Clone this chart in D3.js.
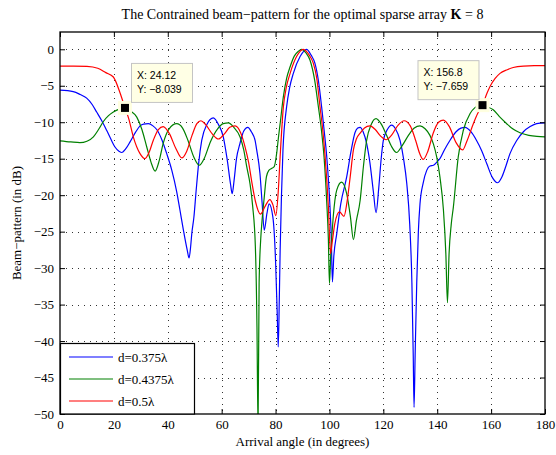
<!DOCTYPE html>
<html>
<head>
<meta charset="utf-8">
<script src="https://cdn.jsdelivr.net/npm/d3@7"></script>
<style>
  html, body { margin: 0; padding: 0; background: #fff; }
  svg { display: block; }
</style>
</head>
<body>
<svg id="chart" width="556" height="455"></svg>
<script>
// Beam-pattern curves (arrival angle in degrees, response in dB)
const seriesLabels = ["d=0.375λ", "d=0.4375λ", "d=0.5λ"];
const seriesColors = ["#0000ff", "#008000", "#ff0000"];

const blueAngle = [0, 4.9, 7.5, 9.9, 12, 13.6, 15.5, 17.3, 19, 20.4, 22, 22.9, 24.5, 26, 28, 29.7, 31, 32.8, 34.5, 35.9, 37.8, 39.6, 41.5, 43.3, 44.5, 45.8, 47.2, 47.9, 48.5, 48.9, 49.7, 50.5, 51.5, 52.6, 54.5, 56.9, 58.8, 60.6, 62, 63.3, 63.9, 64.6, 65.5, 66.8, 68.2, 69.7, 71, 72.4, 73, 74.2, 75, 75.8, 76.8, 77.6, 79, 80, 80.6, 81, 81.4, 81.7, 82.2, 82.75, 84.1, 85.2, 86.6, 89.1, 91.5, 93.2, 94.6, 95.9, 97.1, 98, 99, 100.2, 100.7, 101.1, 101.6, 102.7, 104.2, 106.4, 108, 109.5, 110.5, 111.4, 112.5, 113.8, 115, 116.3, 117.3, 118.3, 119.2, 120, 121.5, 123.1, 124.5, 126.2, 127.5, 128.7, 129.8, 130.6, 131.1, 131.4, 131.8, 132.4, 133, 133.6, 134.8, 136.1, 137.3, 138.6, 140, 141, 142.8, 144.7, 147, 148.8, 150.3, 152.5, 154.6, 156.5, 158.4, 160.5, 162.3, 164, 165.5, 167, 169.5, 172, 174.5, 176.9, 180];
const blueDb = [-5.6, -5.8, -6.2, -6.7, -7.6, -8.6, -9.8, -11.1, -12.4, -13.4, -14.0, -14.15, -13.6, -12.7, -11.4, -10.5, -10.25, -10.2, -10.5, -11.0, -12.4, -14.3, -16.6, -19.5, -22.0, -24.8, -27.5, -28.6, -27, -25.3, -23, -19.5, -15.5, -12.5, -10.3, -9.4, -10.3, -12.0, -15.0, -18.5, -19.8, -18.0, -15.0, -12.9, -11.2, -10.7, -11.3, -12.5, -13.8, -17.0, -21.0, -24.8, -22.5, -21.2, -23.0, -29.0, -36.0, -40.8, -34.0, -27.6, -20.0, -13.8, -7.9, -5.3, -3.3, -1.0, 0, -0.8, -1.9, -4.3, -7.9, -11.0, -14.75, -21.6, -26.0, -31.9, -28.5, -25.3, -21.2, -17.5, -14.0, -11.4, -10.8, -10.7, -11.3, -12.9, -15.5, -19.5, -22.4, -19.0, -15.0, -12.5, -11.0, -10.4, -10.9, -12.5, -15.0, -18.4, -24.0, -32.0, -42.0, -49.1, -42.0, -32.0, -25.0, -21.2, -18.3, -16.6, -16.0, -15.9, -15.4, -15.0, -13.7, -12.5, -11.3, -10.8, -10.7, -11.3, -12.5, -13.9, -15.7, -17.6, -18.3, -17.5, -16.0, -14.3, -12.5, -11.3, -10.6, -10.2, -10.1];

const greenAngle = [0, 4, 7.4, 10, 12.4, 14.3, 16.1, 18, 19.8, 22, 24.12, 26, 28.5, 30.4, 32.2, 33.8, 35.3, 36.8, 38.3, 40.5, 43.3, 45.5, 47.5, 49.7, 51.7, 53.6, 55.8, 58.5, 60.6, 62.5, 64.5, 66.8, 68.2, 69.3, 70.5, 71.5, 72.5, 73.1, 73.5, 73.9, 74.5, 74.9, 75.8, 76.6, 77.5, 78.5, 79.5, 80.4, 81.1, 81.7, 82.9, 84.1, 85.4, 87, 88.4, 89.7, 91.3, 92.8, 94.5, 95.9, 97, 98, 99, 99.6, 100, 100.5, 101.4, 102.7, 104.5, 106.4, 107.8, 108.9, 110, 111.4, 112.6, 113.8, 115.5, 117.3, 119.3, 121.2, 123, 124.9, 127, 129.5, 131.5, 133.6, 135.5, 137.3, 138.6, 139.8, 141, 142.3, 143.2, 143.8, 144.4, 145.2, 146, 147.8, 149.7, 152.2, 154, 155.5, 156.8, 158.5, 160.8, 163, 165.8, 168, 170.7, 174, 177, 180];
const greenDb = [-12.55, -12.7, -12.8, -12.6, -12.0, -11.0, -9.9, -9.1, -8.6, -8.2, -8.04, -8.4, -9.3, -11.0, -13.4, -15.5, -16.7, -15.3, -12.9, -10.9, -10.2, -10.8, -12.5, -14.8, -15.9, -14.9, -12.7, -10.9, -10.2, -10.1, -10.7, -12.0, -13.8, -16.1, -18.4, -21.5, -27.0, -38.0, -52.0, -32.0, -26.0, -23.9, -20.3, -17.5, -16.6, -16.35, -16.1, -14.3, -12.0, -10.2, -6.5, -4.0, -2.4, -0.9, -0.3, 0, -0.5, -1.5, -4.2, -7.9, -11.0, -14.75, -21.0, -26.0, -32.1, -28.0, -23.0, -19.3, -18.2, -19.8, -23.0, -26.1, -23.5, -20.7, -16.1, -12.5, -10.3, -9.5, -10.3, -11.8, -13.3, -14.15, -13.2, -11.7, -10.8, -10.5, -10.9, -11.8, -13.0, -14.75, -17.5, -22.0, -28.0, -34.75, -28.0, -24.0, -21.6, -14.75, -11.1, -8.8, -8.0, -7.7, -7.66, -7.9, -8.3, -9.2, -10.2, -10.9, -11.45, -11.8, -11.95, -12.0];

const redAngle = [0, 5, 10, 14, 17, 19.8, 22.3, 24.12, 25.5, 27.2, 29.7, 31.5, 33, 34.6, 36.5, 38.3, 40.5, 43, 45.2, 47, 49, 50.8, 52.3, 54, 56.5, 58.8, 61, 63, 65, 67, 68.7, 70, 71.1, 72.5, 74.4, 76, 77.9, 79, 80.1, 81, 81.7, 82.9, 84, 85.4, 87.8, 90.3, 92.5, 94, 95.3, 96.5, 97.5, 98.4, 99.6, 100.4, 101, 102, 103.7, 105.4, 106.5, 107.7, 108.9, 110, 111.4, 113, 115, 117, 119, 121, 123, 125.5, 127.7, 130, 132, 133.5, 134.8, 136.5, 138.5, 140.5, 142.3, 144.5, 147, 149.4, 151, 153.4, 155, 156.8, 158.5, 159.6, 161.5, 163.3, 166, 168.2, 172, 176, 180];
const redDb = [-2.3, -2.3, -2.35, -2.6, -3.2, -3.8, -6.0, -8.04, -9.5, -12.0, -14.3, -15.0, -14.2, -12.5, -11.0, -10.6, -11.5, -13.6, -14.9, -14.0, -11.8, -10.2, -9.8, -10.3, -11.6, -12.3, -11.6, -10.7, -10.5, -11.4, -13.4, -15.5, -18.0, -20.8, -22.6, -21.6, -20.6, -21.3, -22.8, -19.5, -14.75, -7.9, -5.2, -3.3, -1.0, 0, -0.8, -1.9, -4.0, -7.9, -11.0, -14.75, -21.6, -28.0, -26.5, -23.9, -22.3, -22.9, -21.0, -17.5, -13.8, -12.3, -11.5, -10.8, -10.5, -11.0, -11.9, -12.4, -11.8, -10.4, -9.8, -10.5, -12.5, -14.3, -15.1, -14.0, -11.5, -10.0, -9.7, -10.6, -12.8, -13.8, -12.6, -10.2, -8.8, -7.66, -6.0, -5.1, -4.0, -3.3, -2.8, -2.5, -2.3, -2.25, -2.25];

// Data cursors placed on the pattern
const tipAngle = [24.12, 156.8];
const tipDb = [-8.039, -7.659];

// Axis ticks
const xTicks = [0, 20, 40, 60, 80, 100, 120, 140, 160, 180];
const yTicks = [0, -5, -10, -15, -20, -25, -30, -35, -40, -45, -50];

const svg = d3.select("#chart");
const plotLeft = 60, plotRight = 545, plotTop = 32, plotBottom = 414;
const serif = "'Liberation Serif', 'Times New Roman', serif";
const sans = "'Liberation Sans', Arial, Helvetica, sans-serif";

const x = d3.scaleLinear().domain([0, 180]).range([plotLeft, plotRight]);
const y = d3.scaleLinear().domain([-50, 2.37]).range([plotBottom, plotTop]);

const minus = s => String(s).replace("-", "\u2212");

// Title
svg.append("text")
  .attr("x", (plotLeft + plotRight) / 2).attr("y", 19)
  .attr("text-anchor", "middle")
  .attr("font-family", serif).attr("font-size", 14)
  .call(t => {
    t.append("tspan").text("The Contrained beam\u2212pattern for the optimal sparse array ");
    t.append("tspan").attr("font-weight", "bold").text("K");
    t.append("tspan").text(" = 8");
  });

// Dotted grid
const grid = svg.append("g").attr("stroke", "#333").attr("stroke-width", 1)
  .attr("stroke-dasharray", "1,5");
xTicks.slice(1, -1).forEach(v => {
  grid.append("line").attr("x1", Math.round(x(v)) + 0.5).attr("x2", Math.round(x(v)) + 0.5)
    .attr("y1", plotTop).attr("y2", plotBottom);
});
yTicks.slice(0, -1).forEach(v => {
  grid.append("line").attr("y1", Math.round(y(v)) + 0.5).attr("y2", Math.round(y(v)) + 0.5)
    .attr("x1", plotLeft).attr("x2", plotRight);
});

// Curves
svg.append("defs").append("clipPath").attr("id", "plotClip")
  .append("rect").attr("x", plotLeft).attr("y", plotTop)
  .attr("width", plotRight - plotLeft).attr("height", plotBottom - plotTop);

const line = d3.line().x(d => x(d[0])).y(d => y(d[1])).curve(d3.curveMonotoneX);
const series = [
  d3.zip(blueAngle, blueDb),
  d3.zip(greenAngle, greenDb),
  d3.zip(redAngle, redDb)
];
const plot = svg.append("g").attr("clip-path", "url(#plotClip)");
series.forEach((s, i) => {
  plot.append("path").datum(s)
    .attr("d", line)
    .attr("fill", "none")
    .attr("stroke", seriesColors[i])
    .attr("stroke-width", 1.2)
    .attr("stroke-linejoin", "round");
});

// Axes box with inward ticks
const axes = svg.append("g");
const xAxisB = d3.axisBottom(x).tickValues(xTicks).tickSizeInner(-5).tickSizeOuter(0).tickFormat(d => d);
const xAxisT = d3.axisTop(x).tickValues(xTicks).tickSizeInner(-5).tickSizeOuter(0).tickFormat("");
const yAxisL = d3.axisLeft(y).tickValues(yTicks).tickSizeInner(-5).tickSizeOuter(0).tickFormat(d => minus(d));
const yAxisR = d3.axisRight(y).tickValues(yTicks).tickSizeInner(-5).tickSizeOuter(0).tickFormat("");

axes.append("g").attr("transform", `translate(0,${plotBottom})`).call(xAxisB)
  .call(g => g.selectAll("text").attr("y", 6).attr("dy", "0.71em"));
axes.append("g").attr("transform", `translate(0,${plotTop})`).call(xAxisT);
axes.append("g").attr("transform", `translate(${plotLeft},0)`).call(yAxisL)
  .call(g => g.selectAll("text").attr("x", -6));
axes.append("g").attr("transform", `translate(${plotRight},0)`).call(yAxisR);
axes.selectAll("text").attr("font-family", serif).attr("font-size", 13).attr("fill", "#000");
axes.selectAll(".domain").remove();
axes.selectAll(".tick line").attr("stroke", "#000");
svg.append("rect").attr("x", plotLeft).attr("y", plotTop)
  .attr("width", plotRight - plotLeft).attr("height", plotBottom - plotTop)
  .attr("fill", "none").attr("stroke", "#000").attr("stroke-width", 1.3);

// Axis labels
svg.append("text").attr("x", (plotLeft + plotRight) / 2).attr("y", 446)
  .attr("text-anchor", "middle").attr("font-family", serif).attr("font-size", 13)
  .text("Arrival angle (in degrees)");
svg.append("text").attr("transform", `translate(21,${(plotTop + plotBottom) / 2}) rotate(-90)`)
  .attr("text-anchor", "middle").attr("font-family", serif).attr("font-size", 13)
  .text("Beam\u2212pattern (in dB)");

// Data cursors
const tips = svg.append("g");
tipAngle.forEach((a, i) => {
  const mx = x(a), my = y(tipDb[i]);
  const w = 61, h = 39;
  const bx = i === 0 ? mx + 6 : mx - 4 - w;
  const by = my - 6 - h;
  tips.append("rect").attr("x", mx - 7).attr("y", my - 7).attr("width", 14).attr("height", 14)
    .attr("fill", "#ffffe0");
  tips.append("rect").attr("x", mx - 4).attr("y", my - 4).attr("width", 8).attr("height", 8)
    .attr("fill", "#000");
  tips.append("rect").attr("x", bx + 0.5).attr("y", by + 0.5).attr("width", w).attr("height", h)
    .attr("fill", "#ffffe5").attr("stroke", "#c4c4c4");
  tips.append("text").attr("x", bx + 6).attr("y", by + 16)
    .attr("font-family", sans).attr("font-size", 10.5).text("X: " + a);
  tips.append("text").attr("x", bx + 6).attr("y", by + 30)
    .attr("font-family", sans).attr("font-size", 10.5).text("Y: " + minus(tipDb[i]));
});

// Legend
const lg = svg.append("g");
lg.append("rect").attr("x", plotLeft + 0.5).attr("y", 343.5).attr("width", 134)
  .attr("height", plotBottom - 343.5)
  .attr("fill", "#fff").attr("stroke", "#000").attr("stroke-width", 1.2);
const legendY = [357, 379, 401];
seriesLabels.forEach((name, i) => {
  lg.append("line").attr("x1", 69).attr("x2", 113).attr("y1", legendY[i]).attr("y2", legendY[i])
    .attr("stroke", seriesColors[i]).attr("stroke-width", 1.2);
  lg.append("text").attr("x", 118).attr("y", legendY[i] + 5)
    .attr("font-family", serif).attr("font-size", 13).text(name);
});
</script>
</body>
</html>
